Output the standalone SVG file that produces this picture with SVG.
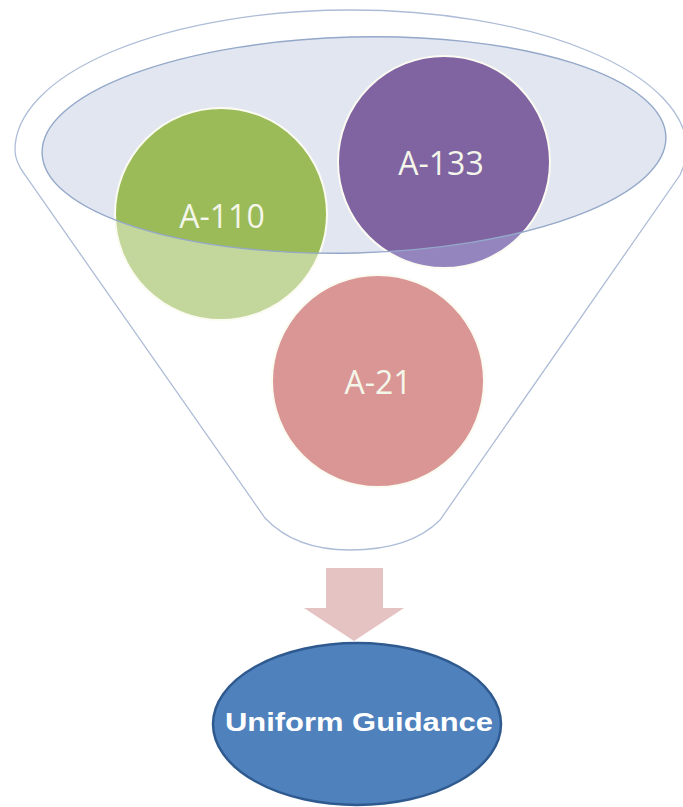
<svg xmlns="http://www.w3.org/2000/svg" width="683" height="807" viewBox="0 0 683 807">
  <style>
    .funnel { fill: #ffffff; stroke: #aebdd7; stroke-width: 1.3; }
    .rim { fill: #e1e6f1; stroke: none; }
    .rim-line { fill: none; stroke: #94a8c9; stroke-width: 1.4; }
    .ring { fill: none; stroke: #fbfbf2; stroke-width: 2; }
    .lbl { font-family: "Open Sans", "Liberation Sans", sans-serif; font-size: 32px; fill: #f4f6ea; text-anchor: middle; dominant-baseline: central; }
    .out-lbl { font-family: "Liberation Sans", Arial, sans-serif; font-size: 26px; font-weight: bold; fill: #ffffff; text-anchor: middle; dominant-baseline: central; }
  </style>
  <defs>
    <clipPath id="rimClip">
      <ellipse cx="354" cy="145" rx="312" ry="108" transform="rotate(-1.5 354 145)"/>
    </clipPath>
  </defs>

  <rect width="683" height="807" fill="#ffffff"/>

  <!-- funnel body -->
  <g id="funnel">
    <path class="funnel" d="M 15,150 A 336 140 0 0 1 687,150 C 687,158 684,166 680,175 L 440,520 Q 410,550 350,550 Q 295,550 265,518 L 25,175 C 19,167 15,158 15,150 Z"/>
    <ellipse class="rim" cx="354" cy="145" rx="312" ry="108" transform="rotate(-1.5 354 145)"/>
  </g>

  <!-- A-110 -->
  <g id="a110">
    <circle cx="221" cy="214" r="106" fill="#c3d69b"/>
    <circle cx="221" cy="214" r="106" fill="#9bbb59" clip-path="url(#rimClip)"/>
    <circle class="ring" cx="221" cy="214" r="106"/>
  </g>

  <!-- A-133 -->
  <g id="a133">
    <circle cx="444" cy="162" r="106" fill="#9585bf"/>
    <circle cx="444" cy="162" r="106" fill="#8064a2" clip-path="url(#rimClip)"/>
    <circle class="ring" cx="444" cy="162" r="106"/>
  </g>

  <!-- A-21 -->
  <g id="a21">
    <circle cx="378" cy="381" r="106" fill="#d99694"/>
    <circle class="ring" cx="378" cy="381" r="106"/>
  </g>

  <!-- rim edge over the circles -->
  <g id="rim-edge">
    <ellipse class="rim-line" cx="354" cy="145" rx="312" ry="108" transform="rotate(-1.5 354 145)"/>
  </g>

  <!-- labels -->
  <text class="lbl" x="222" y="215">A-110</text>
  <text class="lbl" x="441" y="162">A-133</text>
  <text class="lbl" x="378" y="381">A-21</text>

  <!-- connector: funnel to result -->
  <g id="connectors">
    <path d="M 326,568 L 383,568 L 383,608 L 404,608 L 354,641 L 304,608 L 326,608 Z" fill="#e6c3c3"/>
  </g>

  <!-- result -->
  <g id="uniform-guidance">
    <ellipse cx="357" cy="724" rx="144" ry="81" fill="#4f81bd" stroke="#2f5a8f" stroke-width="2.5"/>
    <text class="out-lbl" x="359" y="722" textLength="268" lengthAdjust="spacingAndGlyphs">Uniform Guidance</text>
  </g>
</svg>
